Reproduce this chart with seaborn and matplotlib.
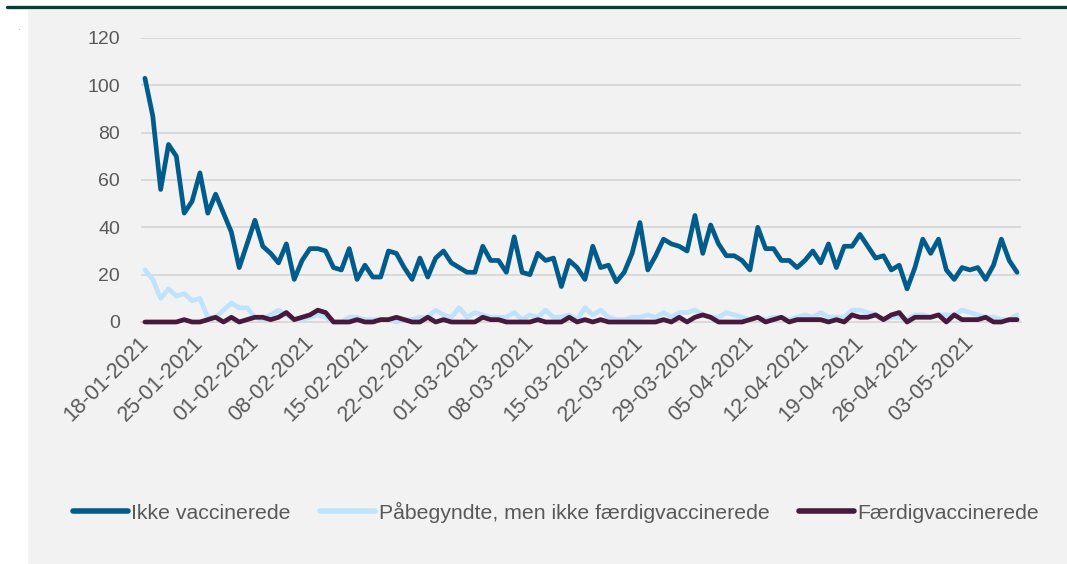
import numpy as np
import pandas as pd
import seaborn as sns
import matplotlib.pyplot as plt
from matplotlib.lines import Line2D
from matplotlib.patches import Rectangle
from matplotlib.transforms import ScaledTranslation

# daily values from 18-01-2021 to 09-05-2021
start_date = "2021-01-18"

ikke_vaccinerede = [
    103, 87, 56, 75, 70, 46, 51, 63, 46, 54, 46, 38, 23, 33, 43, 32,
    29, 25, 33, 18, 26, 31, 31, 30, 23, 22, 31, 18, 24, 19, 19, 30,
    29, 23, 18, 27, 19, 27, 30, 25, 23, 21, 21, 32, 26, 26, 21, 36,
    21, 20, 29, 26, 27, 15, 26, 23, 18, 32, 23, 24, 17, 21, 29, 42,
    22, 28, 35, 33, 32, 30, 45, 29, 41, 33, 28, 28, 26, 22, 40, 31,
    31, 26, 26, 23, 26, 30, 25, 33, 23, 32, 32, 37, 32, 27, 28, 22,
    24, 14, 23, 35, 29, 35, 22, 18, 23, 22, 23, 18, 24, 35, 26, 21,
]
paabegyndte = [
    22, 18, 10, 14, 11, 12, 9, 10, 2, 2, 5, 8, 6, 6, 2, 1,
    3, 5, 3, 1, 1, 2, 3, 2, 0, 0, 2, 2, 1, 1, 1, 1,
    0, 1, 1, 2, 2, 5, 3, 2, 6, 2, 4, 3, 2, 2, 2, 4,
    1, 3, 2, 5, 2, 2, 3, 1, 6, 3, 5, 2, 1, 1, 2, 2,
    3, 2, 4, 2, 4, 4, 5, 3, 2, 2, 4, 3, 2, 1, 2, 1,
    2, 2, 1, 2, 3, 2, 4, 2, 2, 2, 5, 5, 4, 3, 1, 2,
    2, 1, 3, 3, 2, 3, 3, 3, 5, 4, 3, 2, 2, 1, 1, 3,
]
faerdigvaccinerede = [
    0, 0, 0, 0, 0, 1, 0, 0, 1, 2, 0, 2, 0, 1, 2, 2,
    1, 2, 4, 1, 2, 3, 5, 4, 0, 0, 0, 1, 0, 0, 1, 1,
    2, 1, 0, 0, 2, 0, 1, 0, 0, 0, 0, 2, 1, 1, 0, 0,
    0, 0, 1, 0, 0, 0, 2, 0, 1, 0, 1, 0, 0, 0, 0, 0,
    0, 0, 1, 0, 2, 0, 2, 3, 2, 0, 0, 0, 0, 1, 2, 0,
    1, 2, 0, 1, 1, 1, 1, 0, 1, 0, 3, 2, 2, 3, 1, 3,
    4, 0, 2, 2, 2, 3, 0, 3, 1, 1, 1, 2, 0, 0, 1, 1,
]

series_names = [
    "Ikke vaccinerede",
    "Påbegyndte, men ikke færdigvaccinerede",
    "Færdigvaccinerede",
]
series_colors = ["#015c8b", "#bfe3fa", "#48193d"]

dates = pd.date_range(start_date, periods=len(ikke_vaccinerede), freq="D")
tick_labels = list(dates[::7].strftime("%d-%m-%Y"))

# long format for seaborn
frames = []
for name, vals in zip(series_names, [ikke_vaccinerede, paabegyndte, faerdigvaccinerede]):
    frames.append(pd.DataFrame({"dag": np.arange(len(vals)), "antal": vals, "serie": name}))
df = pd.concat(frames, ignore_index=True)

sns.set_theme(style="white")
plt.rcParams["font.family"] = ["Liberation Sans", "DejaVu Sans"]

text_color = "#595959"
grid_color = "#d9d9d9"

fig = plt.figure(figsize=(10.67, 5.64), dpi=100, facecolor="white")
fig.patches.append(Rectangle((28 / 1067, 0), 1 - 28 / 1067, 1 - 9.5 / 564,
                             transform=fig.transFigure, facecolor="#f2f2f2",
                             edgecolor="none", zorder=-10))
fig.add_artist(Line2D([7 / 1067, 1], [1 - 7 / 564] * 2, transform=fig.transFigure,
                      color="#053f33", lw=2.4))
fig.text(18 / 1067, 1 - 30 / 564, ".", fontsize=7, color="#999999", ha="center")

ax = fig.add_axes([141 / 1067, 1 - 322 / 564, 880 / 1067, 284 / 564])
ax.set_facecolor("none")

sns.lineplot(data=df, x="dag", y="antal", hue="serie", hue_order=series_names,
             palette=series_colors, linewidth=3.4, sort=False, ax=ax)
for line in ax.get_lines():
    line.set_clip_on(False)
    line.set_zorder(3)
    line.set_solid_joinstyle("round")
    line.set_solid_capstyle("round")

handles, labels = ax.get_legend_handles_labels()
ax.get_legend().remove()
for h in handles:
    h.set_linewidth(4)
fig.legend(handles, labels, loc="center", bbox_to_anchor=(0.521, 1 - 512 / 564),
           ncol=3, frameon=False, fontsize=15.3, handlelength=2.6,
           handletextpad=0.15, columnspacing=1.4, labelcolor=text_color)

ax.set_xlim(-0.5, len(ikke_vaccinerede) - 0.5)
ax.set_ylim(0, 120)
ax.set_yticks(np.arange(0, 121, 20))
ax.yaxis.grid(True, color=grid_color, lw=1.4)
ax.set_axisbelow(True)

ax.set_xticks(np.arange(0, len(ikke_vaccinerede), 7))
ax.set_xticklabels(tick_labels, rotation=45, ha="right", va="top",
                   rotation_mode="anchor")
ax.set_xticks(np.arange(-0.5, len(ikke_vaccinerede), 7), minor=True)
ax.tick_params(axis="x", which="major", length=0, pad=10, labelsize=15.5, labelcolor=text_color)
ax.tick_params(axis="x", which="minor", length=5, width=1.3, color=grid_color, direction="out")
ax.tick_params(axis="y", length=0, pad=15, labelsize=14, labelcolor=text_color)
ax.set_xlabel("")
ax.set_ylabel("")

# nudge the rotated date labels a little left/up, like the reference
shift = ScaledTranslation(-7 / 100, 3 / 100, fig.dpi_scale_trans)
for lbl in ax.get_xticklabels():
    lbl.set_transform(lbl.get_transform() + shift)

for side in ["top", "right", "left"]:
    ax.spines[side].set_visible(False)
ax.spines["bottom"].set_color(grid_color)
ax.spines["bottom"].set_linewidth(1.4)

fig.savefig("out.png", dpi=100, facecolor="white")
